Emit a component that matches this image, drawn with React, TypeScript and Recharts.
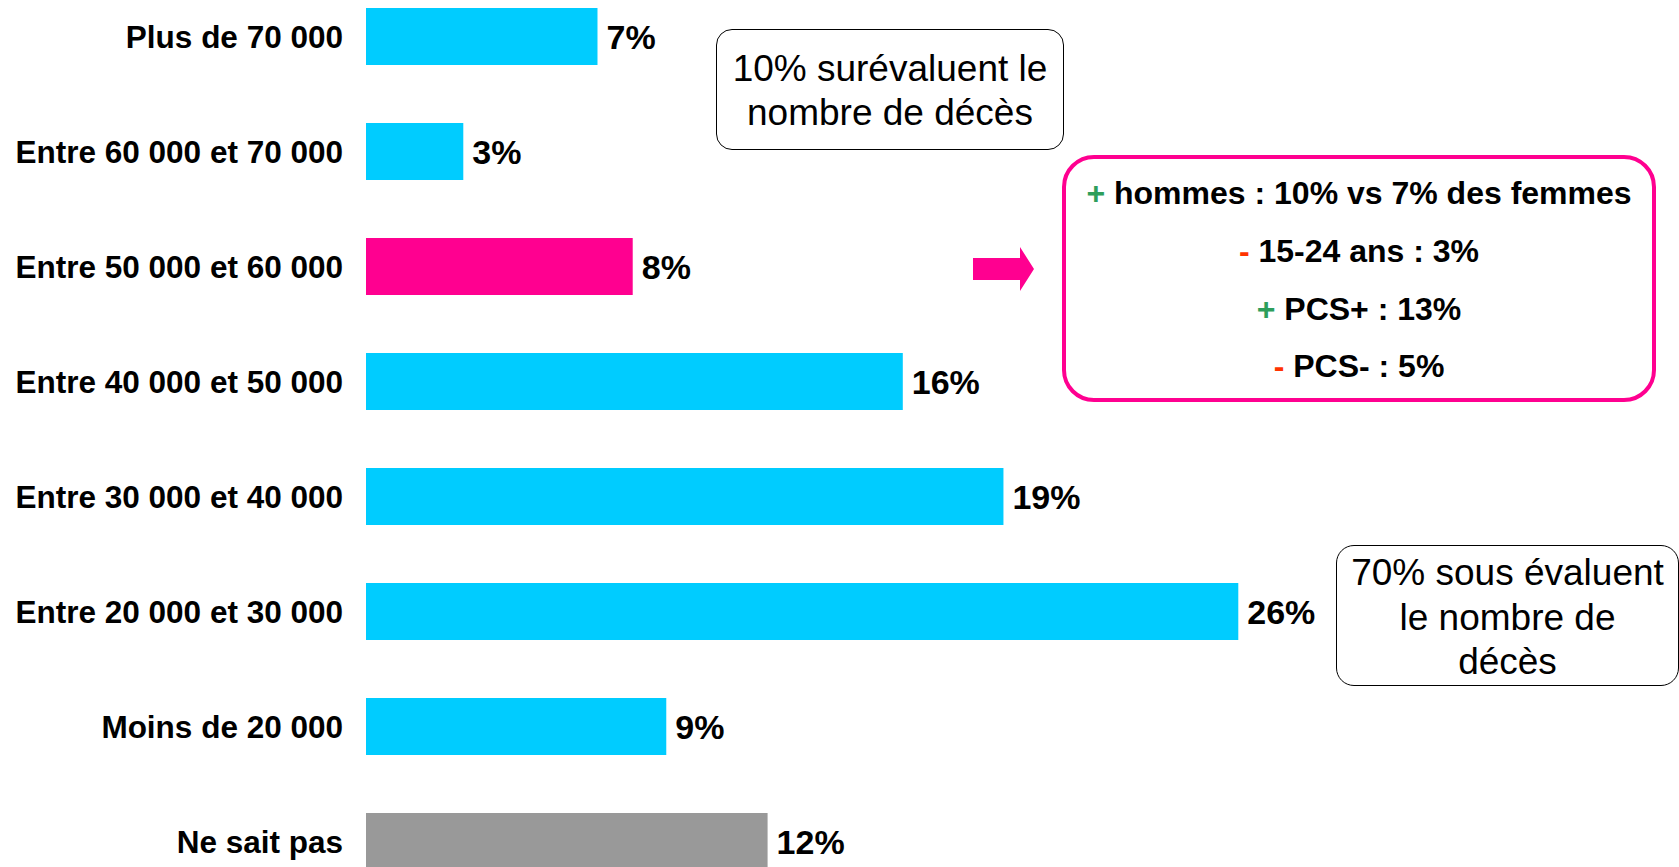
import React from 'react';
import { BarChart, Bar, XAxis, YAxis, Cell, LabelList } from 'recharts';

const categories = [
  'Plus de 70 000',
  'Entre 60 000 et 70 000',
  'Entre 50 000 et 60 000',
  'Entre 40 000 et 50 000',
  'Entre 30 000 et 40 000',
  'Entre 20 000 et 30 000',
  'Moins de 20 000',
  'Ne sait pas',
];
// labels show them rounded
const shares = [6.9, 2.9, 7.95, 16, 19, 26, 8.95, 11.97];

const overLines = ['10% surévaluent le', 'nombre de décès'];
const underLines = ['70% sous évaluent', 'le nombre de', 'décès'];
const detailLines = [
  { sign: '+', text: 'hommes : 10% vs 7% des femmes' },
  { sign: '-', text: '15-24 ans : 3%' },
  { sign: '+', text: 'PCS+ : 13%' },
  { sign: '-', text: 'PCS- : 5%' },
];

const FONT = '"Liberation Sans", Arial, Helvetica, sans-serif';
const CYAN = '#00CCFF';
const PINK = '#FF0090';
const GRAY = '#999999';

const data = categories.map((name, i) => ({ name, value: shares[i] }));

const colorFor = (name: string) =>
  name === 'Entre 50 000 et 60 000' ? PINK : name === 'Ne sait pas' ? GRAY : CYAN;

const App: React.FC = () => {
  return (
    <div
      style={{
        position: 'fixed',
        top: 0,
        left: 0,
        width: 1679,
        height: 867,
        overflow: 'hidden',
        background: '#fff',
        fontFamily: FONT,
      }}
    >
      <div style={{ position: 'absolute', top: -21, left: 0 }}>
        <BarChart
          width={1679}
          height={920}
          data={data}
          layout="vertical"
          margin={{ top: 0, right: 306.5, bottom: 0, left: 0 }}
        >
          <XAxis type="number" domain={[0, 30]} hide />
          <YAxis
            type="category"
            dataKey="name"
            width={366}
            axisLine={false}
            tickLine={false}
            tickSize={0}
            tickMargin={23}
            interval={0}
            tick={{ fontSize: 31.5, fontWeight: 700, fill: '#000', fontFamily: FONT }}
          />
          <Bar dataKey="value" barSize={57} isAnimationActive={false}>
            {data.map((d) => (
              <Cell key={d.name} fill={colorFor(d.name)} />
            ))}
            <LabelList
              dataKey="value"
              position="right"
              offset={9}
              formatter={(v: any) => `${Math.round(Number(v))}%`}
              fill="#000"
              fontSize={34}
              fontWeight={700}
              fontFamily={FONT}
            />
          </Bar>
        </BarChart>
      </div>

      <div
        style={{
          position: 'absolute',
          left: 716,
          top: 29,
          width: 348,
          height: 121,
          boxSizing: 'border-box',
          border: '1.5px solid #000',
          borderRadius: 16,
          display: 'flex',
          flexDirection: 'column',
          justifyContent: 'center',
          alignItems: 'center',
          fontSize: 37,
          lineHeight: '44px',
          color: '#000',
          paddingTop: 2,
        }}
      >
        {overLines.map((l) => (
          <div key={l}>{l}</div>
        ))}
      </div>

      <div
        style={{
          position: 'absolute',
          left: 1336,
          top: 545,
          width: 343,
          height: 141,
          boxSizing: 'border-box',
          border: '1.5px solid #000',
          borderRadius: 18,
          display: 'flex',
          flexDirection: 'column',
          justifyContent: 'center',
          alignItems: 'center',
          fontSize: 37,
          lineHeight: '44.5px',
          color: '#000',
          paddingTop: 5,
        }}
      >
        {underLines.map((l) => (
          <div key={l}>{l}</div>
        ))}
      </div>

      <svg
        style={{ position: 'absolute', left: 972, top: 246 }}
        width={64}
        height={47}
      >
        <polygon
          points="1,12 48,12 48,1 62,23 48,45 48,34 1,34"
          fill={PINK}
        />
      </svg>

      <div
        style={{
          position: 'absolute',
          left: 1062,
          top: 155,
          width: 594,
          height: 247,
          boxSizing: 'border-box',
          border: `4.5px solid ${PINK}`,
          borderRadius: 32,
          display: 'flex',
          flexDirection: 'column',
          justifyContent: 'center',
          alignItems: 'center',
          fontSize: 32,
          fontWeight: 700,
          lineHeight: '57.8px',
          color: '#000',
          paddingTop: 4,
        }}
      >
        {detailLines.map((l) => (
          <div key={l.text}>
            <span style={{ color: l.sign === '+' ? '#2E9E5B' : '#FF3300' }}>{l.sign}</span>{' '}
            {l.text}
          </div>
        ))}
      </div>
    </div>
  );
};

export default App;
